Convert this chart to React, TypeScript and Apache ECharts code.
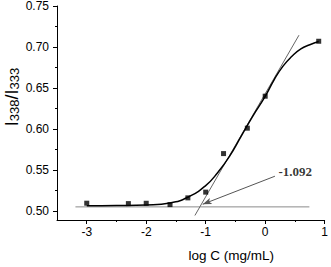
import React, { useEffect, useRef } from "react";
import * as echarts from "echarts";

// Measured points: log C vs I338/I333
const logC = [-3, -2.3, -2, -1.6, -1.3, -1, -0.7, -0.3, 0, 0.9];
const ratio = [0.5095, 0.509, 0.5094, 0.5078, 0.516, 0.523, 0.570, 0.601, 0.640, 0.707];

// Fitted sigmoid curve
const fitX = [-3, -2.5, -2, -1.6, -1.3, -1, -0.8, -0.6, -0.4, -0.2, 0, 0.15, 0.3, 0.45, 0.6, 0.75, 0.9];
const fitY = [0.5063, 0.5066, 0.5074, 0.5098, 0.5167, 0.531, 0.5467, 0.5667, 0.5917, 0.6167, 0.6397, 0.66, 0.6767, 0.6887, 0.6977, 0.7027, 0.7067];

// Tangent line and baseline
const tangentX = [-1.182, 0.568];
const tangentY = [0.4945, 0.7144];
const baseX = [-3.19, 0.743];
const baseY = [0.505, 0.505];

// Annotation
const cmcLabel = "-1.092";
const arrowFrom = [0.164, 0.5424];
const arrowTo = [-1.05, 0.5082];
const labelAt = [0.507, 0.5478];

const xMajor = [-3, -2, -1, 0, 1];
const xMinor = [-2.5, -1.5, -0.5, 0.5];
const yMajor = [0.5, 0.55, 0.6, 0.65, 0.7, 0.75];
const yMinor = [0.525, 0.575, 0.625, 0.675, 0.725];

const X_MIN = -3.5;
const X_MAX = 1;
const Y_MIN = 0.489;
const Y_MAX = 0.75;

const zip = (a: number[], b: number[]) => a.map((v, i) => [v, b[i]]);

export default function App() {
  const ref = useRef<HTMLDivElement>(null);
  useEffect(() => {
    if (!ref.current) return;
    const chart = echarts.init(ref.current, undefined, { renderer: "svg" });
    const font = "Liberation Sans";
    const axisBase = {
      type: "value" as const,
      splitLine: { show: false },
    };
    chart.setOption({
      animation: false,
      backgroundColor: "#ffffff",
      grid: { left: 57, right: 3, top: 5.5, bottom: 39, containLabel: false },
      xAxis: [
        {
          ...axisBase,
          min: X_MIN,
          max: X_MAX,
          position: "bottom",
          axisLine: { show: true, onZero: false, lineStyle: { color: "#000", width: 1 } },
          axisTick: { show: true, length: 4, customValues: xMajor, lineStyle: { color: "#000" } },
          axisLabel: {
            customValues: xMajor,
            color: "#000",
            fontSize: 12,
            fontFamily: font,
            margin: 6,
            showMaxLabel: true,
          },
          name: "log C (mg/mL)",
          nameLocation: "middle",
          nameGap: 28,
          nameTextStyle: { color: "#000", fontSize: 13.5, fontFamily: font, padding: [0, 0, 0, 81] },
        },
        {
          ...axisBase,
          min: X_MIN,
          max: X_MAX,
          position: "bottom",
          axisLine: { show: false, onZero: false },
          axisTick: { show: true, length: 2, customValues: xMinor, lineStyle: { color: "#000" } },
          axisLabel: { show: false },
        },
      ],
      yAxis: [
        {
          ...axisBase,
          min: Y_MIN,
          max: Y_MAX,
          position: "left",
          axisLine: { show: true, onZero: false, lineStyle: { color: "#000", width: 1 } },
          axisTick: { show: true, length: 4, customValues: yMajor, lineStyle: { color: "#000" } },
          axisLabel: {
            customValues: yMajor,
            color: "#000",
            fontSize: 12,
            fontFamily: font,
            margin: 8,
            formatter: (v: number) => v.toFixed(2),
          },
        },
        {
          ...axisBase,
          min: Y_MIN,
          max: Y_MAX,
          position: "left",
          axisLine: { show: false, onZero: false },
          axisTick: { show: true, length: 2, customValues: yMinor, lineStyle: { color: "#000" } },
          axisLabel: { show: false },
        },
      ],
      graphic: [
        {
          type: "text",
          x: 12,
          y: 97,
          rotation: Math.PI / 2,
          style: {
            text: "{a|I}{b|338}{a|/I}{b|333}",
            align: "center",
            verticalAlign: "middle",
            fill: "#000",
            rich: {
              a: { fontSize: 18, fontFamily: font, lineHeight: 18, verticalAlign: "top", fill: "#000" },
              b: { fontSize: 13, fontFamily: font, lineHeight: 13, verticalAlign: "bottom", padding: [8, 0, 0, 0], fill: "#000" },
            },
          },
        },
      ],
      series: [
        {
          type: "line",
          name: "baseline",
          data: zip(baseX, baseY),
          showSymbol: false,
          symbol: "none",
          lineStyle: { color: "#8a8a8a", width: 1 },
          z: 1,
        },
        {
          type: "line",
          name: "tangent",
          data: zip(tangentX, tangentY),
          showSymbol: false,
          symbol: "none",
          lineStyle: { color: "#666", width: 1 },
          z: 1,
          markLine: {
            silent: true,
            symbol: ["none", "arrow"],
            symbolSize: [5, 9],
            label: { show: false },
            lineStyle: { color: "#555", width: 1, type: "solid" },
            data: [[{ coord: arrowFrom }, { coord: arrowTo }]],
          },
        },
        {
          type: "line",
          name: "fit",
          data: zip(fitX, fitY),
          smooth: true,
          showSymbol: false,
          symbol: "none",
          lineStyle: { color: "#000", width: 1.5 },
          z: 2,
        },
        {
          type: "scatter",
          name: "data",
          data: zip(logC, ratio),
          symbol: "rect",
          symbolSize: 5,
          itemStyle: { color: "#000" },
          z: 3,
        },
        {
          type: "scatter",
          name: "label",
          data: [labelAt],
          symbolSize: 0,
          silent: true,
          label: {
            show: true,
            position: "inside",
            formatter: cmcLabel,
            color: "#000",
            fontSize: 13,
            fontWeight: "bold",
            fontFamily: "Liberation Serif",
          },
          z: 3,
        },
      ],
    });
    return () => chart.dispose();
  }, []);
  return <div ref={ref} style={{ position: "fixed", left: 0, top: 0, width: 331, height: 267 }} />;
}
